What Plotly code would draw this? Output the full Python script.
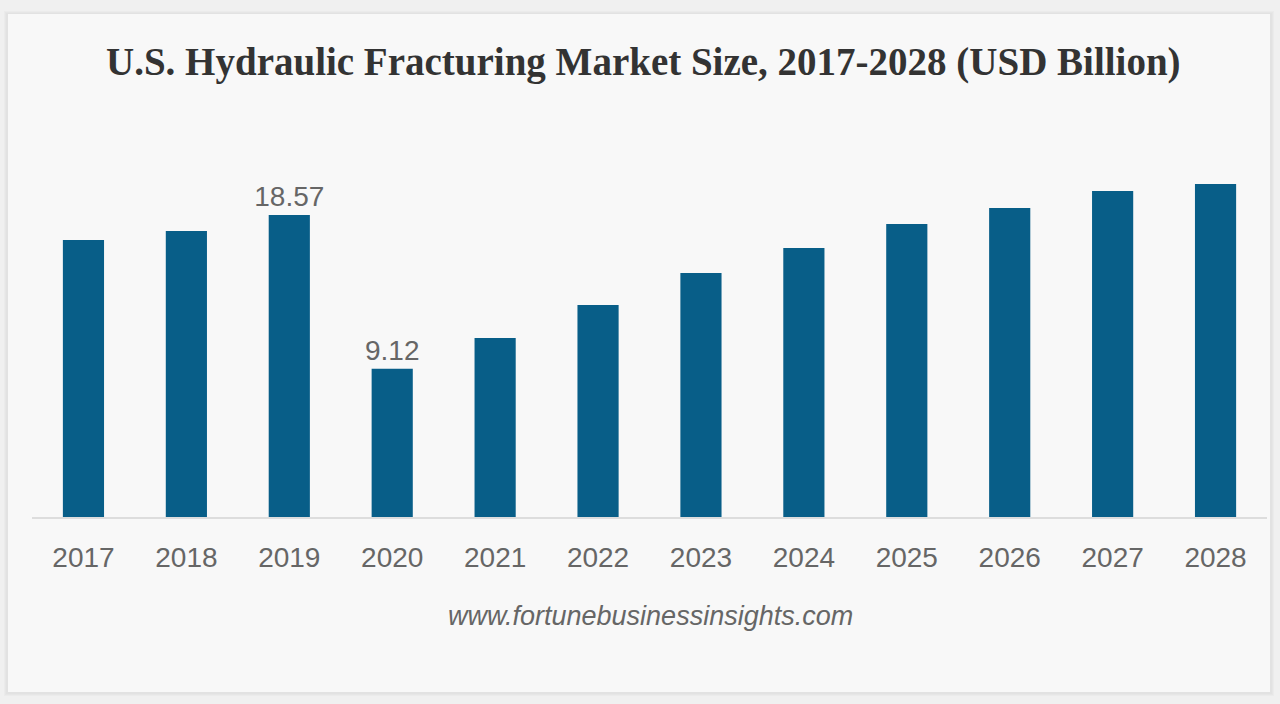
import plotly.graph_objects as go

years = ["2017", "2018", "2019", "2020", "2021", "2022", "2023", "2024", "2025", "2026", "2027", "2028"]
values = [17.04, 17.59, 18.57, 9.12, 11.01, 13.04, 15.0, 16.54, 18.02, 19.0, 20.05, 20.48]
label_years = {"2019", "2020"}

W, H = 1280, 704
L, R, T, B = 32, 1267, 150, 517
pw, ph = R - L, B - T


def px(x):
    return (x - L) / pw


def py(y):
    return (B - y) / ph


labels = [f"{v:.2f}" if y in label_years else "" for y, v in zip(years, values)]

fig = go.Figure(
    go.Bar(
        x=years,
        y=values,
        width=0.4,
        marker=dict(color="#085e88", line=dict(width=0)),
        text=labels,
        textposition="outside",
        constraintext="none",
        textfont=dict(family="Liberation Sans, Arial, sans-serif", size=28, color="#666666"),
        cliponaxis=False,
        hoverinfo="x+y",
    )
)

shapes = []
# soft shadow layers
for i, c in enumerate(["#ebebeb", "#e6e6e6", "#e2e2e2"]):
    d = 4 - i
    shapes.append(dict(type="rect", xref="paper", yref="paper",
                       x0=px(8 - d), x1=px(1270 + d), y0=py(14 - d + 1), y1=py(692 + d),
                       fillcolor=c, line=dict(width=0), layer="below"))
shapes.append(dict(type="rect", xref="paper", yref="paper",
                   x0=px(8), x1=px(1270), y0=py(14), y1=py(692),
                   fillcolor="#f8f8f8", line=dict(width=0), layer="below"))

fig.update_layout(
    width=W, height=H,
    margin=dict(l=L, r=W - R, t=T, b=H - B, pad=0),
    paper_bgcolor="#f0f0f0",
    plot_bgcolor="rgba(0,0,0,0)",
    showlegend=False,
    bargap=0.6,
    shapes=shapes,
    xaxis=dict(
        showgrid=False, zeroline=False,
        showline=True, linecolor="#dddddd", linewidth=2,
        ticks="", ticklabelstandoff=14,
        tickfont=dict(family="Liberation Sans, Arial, sans-serif", size=28, color="#666666"),
        fixedrange=True,
    ),
    yaxis=dict(
        range=[0, ph / 16.26], visible=False, showgrid=False, zeroline=False, fixedrange=True,
    ),
    annotations=[
        dict(text="<b>U.S. Hydraulic Fracturing Market Size, 2017-2028 (USD Billion)</b>",
             xref="paper", yref="paper", x=px(643), y=py(62), xanchor="center", yanchor="middle",
             showarrow=False,
             font=dict(family="Liberation Serif, Times New Roman, serif", size=39, color="#333333")),
        dict(text="<i>www.fortunebusinessinsights.com</i>",
             xref="paper", yref="paper", x=px(650), y=py(616), xanchor="center", yanchor="middle",
             showarrow=False,
             font=dict(family="Liberation Sans, Arial, sans-serif", size=27, color="#666666")),
    ],
)

fig.write_html(
    "out.html",
    config={"displayModeBar": False},
    post_script="document.body.style.margin='0px';document.body.style.background='#f0f0f0';",
)
